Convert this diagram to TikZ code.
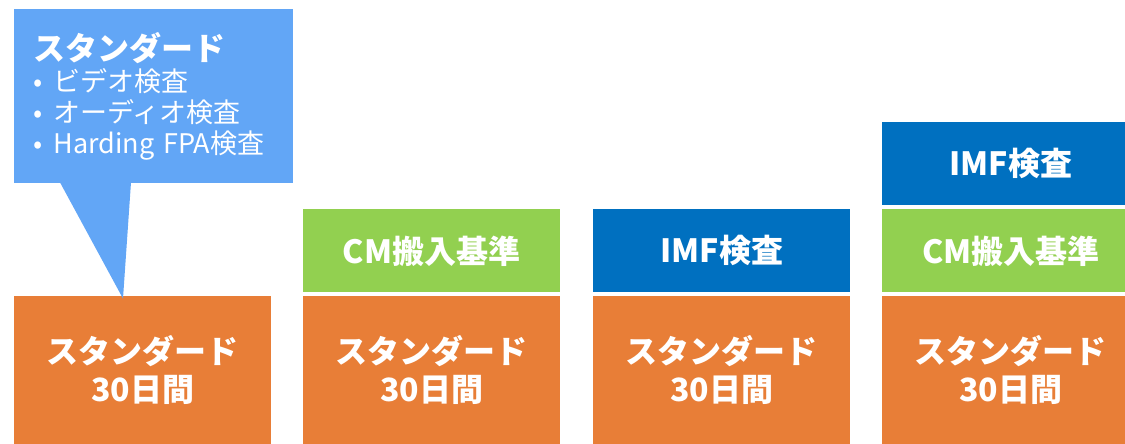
\documentclass[tikz,border=0pt]{standalone}
\usepackage{fontspec}
\setmainfont{Noto Sans CJK JP}
\usepackage{tikz}
\usetikzlibrary{positioning}
\definecolor{baseorange}{HTML}{E87E37}
\definecolor{cmgreen}{HTML}{92D050}
\definecolor{imfblue}{HTML}{0070C0}
\definecolor{calloutblue}{HTML}{62A6F6}
\tikzset{%
	block/.style={
		rectangle,
		draw=none,
		minimum width=257pt,
		inner sep=0pt,
		text=white,
		align=center,
		font=\fontsize{32}{38}\selectfont\bfseries
	},
	block-base/.style={ fill=baseorange, minimum height=148pt },
	block-cm/.style={ fill=cmgreen, minimum height=83pt },
	block-imf/.style={ fill=imfblue, minimum height=83pt },
	callout/.style={
		rectangle,
		fill=calloutblue,
		text=white,
		align=left,
		text width=241pt,
		inner xsep=19pt,
		inner ysep=0pt,
		minimum width=279pt,
		minimum height=174pt,
		font=\fontsize{27}{31}\selectfont
	},
}

\begin{document}
\begin{tikzpicture}[x=1pt, y=1pt]
\clip (0,0) rectangle (1125,444);
% base blocks
\foreach \x [count=\i] in {14,303,593,882}
	\node[block, block-base, anchor=south west] (base-\i) at (\x,0) {スタンダード\\30日間};

% stacked blocks
\node[block, block-cm, above=3pt of base-2] (cm-2) {CM搬入基準};
\node[block, block-imf, above=3pt of base-3] (imf-3) {IMF検査};
\node[block, block-cm, above=3pt of base-4] (cm-4) {CM搬入基準};
\node[block, block-imf, above=4pt of cm-4] (imf-4) {IMF検査};

% callout
\node[callout, anchor=north west] (note) at (14,435) {%
	{\fontsize{32}{34}\selectfont\bfseries スタンダード}\\
	•\hspace{11pt}ビデオ検査\\
	•\hspace{11pt}オーディオ検査\\
	•\hspace{11pt}Harding FPA検査};
\coordinate (tip) at ([xshift=109pt,yshift=-3pt]base-1.north west);
\fill[calloutblue] ([xshift=46pt,yshift=1pt]note.south west) -- ([xshift=117pt,yshift=1pt]note.south west) -- (tip) -- cycle;

\end{tikzpicture}
\end{document}
